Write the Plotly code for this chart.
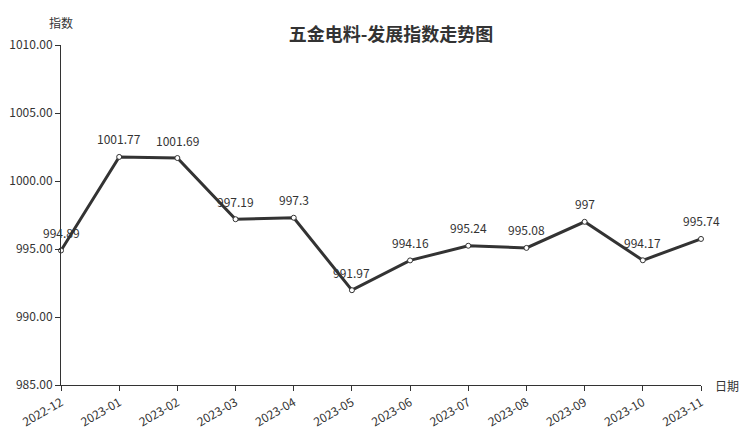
import plotly.graph_objects as go

months = ["2022-12", "2023-01", "2023-02", "2023-03", "2023-04", "2023-05",
          "2023-06", "2023-07", "2023-08", "2023-09", "2023-10", "2023-11"]
values = [994.89, 1001.77, 1001.69, 997.19, 997.3, 991.97,
          994.16, 995.24, 995.08, 997, 994.17, 995.74]
labels = ["994.89", "1001.77", "1001.69", "997.19", "997.3", "991.97",
          "994.16", "995.24", "995.08", "997", "994.17", "995.74"]
y_ticks = [985, 990, 995, 1000, 1005, 1010]

FONT = "Noto Sans CJK SC"
C = "#333333"

fig = go.Figure()
fig.add_trace(go.Scatter(
    x=months, y=values, mode="lines+markers",
    line=dict(color=C, width=3),
    marker=dict(symbol="circle", size=5, color="white", line=dict(color=C, width=1)),
    cliponaxis=False, hoverinfo="x+y",
))

for m, v, t in zip(months, values, labels):
    fig.add_annotation(x=m, y=v, text=t, showarrow=False, yshift=18,
                       font=dict(family=FONT, size=12, color=C))

fig.add_annotation(xref="paper", yref="paper", x=0, y=1, xanchor="center", yanchor="bottom",
                   text="指数", showarrow=False, yshift=12,
                   font=dict(family=FONT, size=12, color=C))
fig.add_annotation(xref="paper", yref="paper", x=1, y=0, xanchor="left", yanchor="middle",
                   text="日期", showarrow=False, xshift=12,
                   font=dict(family=FONT, size=12, color=C))

fig.update_layout(
    width=752, height=427,
    margin=dict(l=61, r=51, t=45, b=42, autoexpand=False),
    paper_bgcolor="white", plot_bgcolor="white",
    showlegend=False,
    title=dict(text="<b>五金电料-发展指数走势图</b>", x=0.52, xanchor="center",
               yref="container", y=1 - 35 / 427, yanchor="middle",
               font=dict(family=FONT, size=18, color=C)),
    font=dict(family=FONT, size=12, color=C),
    xaxis=dict(type="category", range=[0, len(months) - 1], showgrid=False, automargin=False,
               showline=True, linecolor=C, linewidth=1,
               ticks="outside", ticklen=5, tickcolor=C, tickangle=-30,
               tickfont=dict(family=FONT, size=12, color=C)),
    yaxis=dict(range=[985, 1010], tickvals=y_ticks, ticktext=[f"{t:.2f}" for t in y_ticks],
               showgrid=False, zeroline=False, automargin=False,
               showline=True, linecolor=C, linewidth=1,
               ticks="outside", ticklen=5, tickcolor=C,
               tickfont=dict(family=FONT, size=12, color=C)),
)

fig.write_html("out.html",
               config={"displayModeBar": False},
               post_script="document.body.style.margin='0';document.body.style.padding='0';document.body.style.overflow='hidden';")
